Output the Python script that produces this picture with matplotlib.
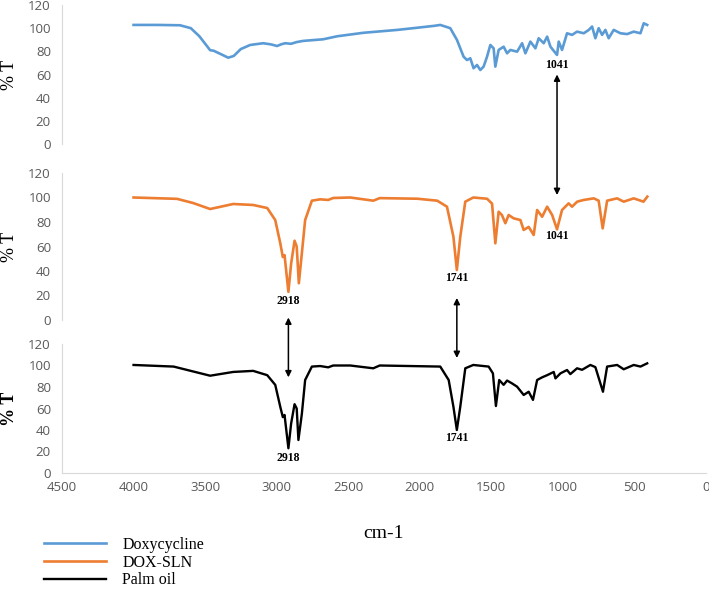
import matplotlib
matplotlib.use("Agg")
import matplotlib.pyplot as plt
from matplotlib.patches import ConnectionPatch

# Doxycycline spectrum (wavenumber cm-1, %T)
dox_wn = [4000, 3836, 3675, 3600, 3540, 3465, 3440, 3380, 3339, 3300, 3250, 3185,
          3094, 3040, 2997, 2970, 2940, 2900, 2860, 2815, 2675, 2577, 2395, 2157,
          2045, 1900, 1857, 1787, 1740, 1694, 1670, 1647, 1624, 1600, 1577, 1554,
          1530, 1507, 1484, 1472, 1449, 1414, 1390, 1367, 1320, 1285, 1262, 1227,
          1192, 1169, 1134, 1110, 1087, 1041, 1029, 1006, 971, 936, 901, 854, 819,
          796, 773, 750, 726, 703, 680, 645, 598, 551, 505, 458, 435, 411]
dox_t = [102.8, 102.8, 102.5, 100, 93, 81, 80.5, 77, 74.5, 76, 82, 85.5,
         87, 86, 84.6, 86, 87, 86.5, 88, 89, 90.4, 93, 96, 98.5,
         100, 102, 102.8, 100, 89.8, 75.4, 72.5, 74, 65.4, 68.2, 63.9, 66.8,
         75.4, 85.5, 82.6, 66.8, 81.2, 84, 78.3, 81.2, 79.7, 87, 78.3, 88.4,
         82.6, 91.3, 87, 92.7, 84, 76.9, 88.4, 81.2, 95.6, 94.2, 97, 95.6, 98.5,
         101.4, 91.3, 100, 94.2, 98.5, 91.3, 98.5, 95.6, 94.9, 97, 95.6, 104.2, 102.8]

# DOX-SLN spectrum
sln_wn = [4000, 3696, 3584, 3465, 3304, 3164, 3066, 3010, 2975, 2957, 2945, 2918,
          2899, 2875, 2860, 2845, 2824, 2801, 2754, 2696, 2640, 2605, 2486, 2325,
          2280, 2017, 1878, 1810, 1765, 1741, 1717, 1682, 1626, 1530, 1495, 1472,
          1449, 1426, 1402, 1379, 1344, 1297, 1274, 1239, 1204, 1180, 1145, 1110,
          1075, 1041, 1006, 960, 936, 900, 854, 784, 750, 722, 691, 621, 575, 505,
          437, 410]
sln_t = [100, 98.9, 95.5, 90.6, 94.7, 93.9, 91.4, 81.6, 62.8, 51.4, 53, 23,
         46, 64.7, 60, 30, 54.5, 81.6, 97.4, 98.5, 98, 99.6, 100, 97.4,
         99.5, 99, 97.4, 92.5, 68, 40.8, 68, 96.6, 100, 99, 95, 62.6,
         88.4, 85.7, 79, 85.7, 83, 81.6, 73.5, 76, 69.4, 89.8, 84.3, 92.5,
         85.7, 74, 89.8, 95.2, 92.5, 96.6, 98, 99.3, 97.4, 74.8, 97.4, 99.3, 96.6, 99.3,
         96.6, 100.7]

# Palm oil spectrum
palm_wn = [4000, 3720, 3465, 3304, 3164, 3066, 3010, 2975, 2957, 2945, 2918, 2899,
           2875, 2860, 2848, 2824, 2801, 2754, 2696, 2640, 2605, 2486, 2325, 2280,
           1857, 1798, 1765, 1741, 1717, 1682, 1626, 1519, 1489, 1468, 1445, 1414,
           1390, 1356, 1320, 1274, 1239, 1209, 1180, 1145, 1110, 1064, 1052, 1017,
           971, 948, 901, 866, 808, 773, 720, 691, 621, 575, 505, 458, 411]
palm_t = [100.5, 99, 90.5, 94, 95, 91, 82, 61.7, 52, 54, 23, 46,
          64, 60, 30.7, 55, 86.5, 99, 99.5, 98.3, 100, 100, 97.4, 100,
          99, 86.5, 61.7, 40, 61.7, 97.4, 100.5, 99, 92.7, 62.3, 86.5, 82,
          86, 83.4, 80.3, 72.6, 75.6, 68, 86.5, 89, 91, 94, 88, 92.7,
          95.8, 92, 97.4, 96, 100.5, 98.5, 75.6, 99, 100.5, 96.5, 100.5, 99, 102]

labels = ["Doxycycline", "DOX-SLN", "Palm oil"]
colors = ["#5B9BD5", "#ED7D31", "#000000"]
x_ticks = [4500, 4000, 3500, 3000, 2500, 2000, 1500, 1000, 500, 0]
y_ticks = [0, 20, 40, 60, 80, 100, 120]

serif = "Liberation Serif"
tick_color = "#595959"
axis_color = "#d9d9d9"

W, H = 709, 589
fig = plt.figure(figsize=(W / 100, H / 100), dpi=100)

def px_axes(top, bottom):
    left, right = 62, 706
    return fig.add_axes([left / W, (H - bottom) / H, (right - left) / W, (bottom - top) / H])

ax_top = px_axes(5, 144)
ax_mid = px_axes(173, 320)
ax_bot = px_axes(344, 473)
axes = [ax_top, ax_mid, ax_bot]

series = [(dox_wn, dox_t), (sln_wn, sln_t), (palm_wn, palm_t)]
lws = [1.9, 1.9, 1.7]
handles = []
for ax, (wn, t), c, lw, lab in zip(axes, series, colors, lws, labels):
    ln, = ax.plot(wn, t, color=c, lw=lw, label=lab, solid_joinstyle="round")
    handles.append(ln)
    ax.set_xlim(4500, 0)
    ax.set_ylim(0, 120)
    ax.set_yticks(y_ticks)
    ax.set_xticks(x_ticks)
    for s in ["top", "right"]:
        ax.spines[s].set_visible(False)
    ax.spines["left"].set_color(axis_color)
    ax.spines["bottom"].set_color(axis_color)
    ax.tick_params(length=0, labelsize=9.5, labelcolor=tick_color, pad=8)
    for lbl in ax.get_yticklabels():
        lbl.set_family("Open Sans")

for ax in [ax_top, ax_mid]:
    ax.spines["bottom"].set_visible(False)
    ax.tick_params(labelbottom=False)

for lbl in ax_bot.get_xticklabels():
    lbl.set_family("Open Sans")
ax_bot.tick_params(axis="x", pad=6)

ax_top.set_ylabel("% T", family=serif, fontsize=13, va="center")
ax_mid.set_ylabel("% T", family=serif, fontsize=13, va="center")
ax_bot.set_ylabel("% T", family=serif, fontsize=13, fontweight="bold", va="center")
for ax in axes:
    ax.yaxis.set_label_coords(-52 / 644, 0.5)
ax_bot.set_xlabel("cm-1", family=serif, fontsize=14, labelpad=22)

# peak labels
note = dict(family=serif, fontsize=8.5, fontweight="bold", ha="center", va="center")
ax_top.text(1041, 68, "1041", **note)
ax_mid.text(1041, 68.5, "1041", **note)
ax_mid.text(1741, 34, "1741", **note)
ax_mid.text(2918, 15.5, "2918", **note)
ax_bot.text(2918, 14, "2918", **note)
ax_bot.text(1741, 32.5, "1741", **note)

# double arrows between panels
arrows = [(1041, ax_top, 60, ax_mid, 102),
          (2918, ax_mid, 2, ax_bot, 89),
          (1741, ax_mid, 18, ax_bot, 107)]
for wn, axa, ya, axb, yb in arrows:
    cp = ConnectionPatch(xyA=(wn, ya), coordsA=axa.transData,
                         xyB=(wn, yb), coordsB=axb.transData,
                         arrowstyle="<|-|>", mutation_scale=9, lw=1.1, color="black")
    fig.add_artist(cp)

fig.legend(handles=handles, labels=labels, loc="upper left",
           bbox_to_anchor=(44 / W, (H - 537) / H), frameon=False,
           prop={"family": serif, "size": 11.5}, handlelength=3.9,
           handletextpad=1.0, labelspacing=0.1, borderpad=0, borderaxespad=0)

fig.savefig("out.png", dpi=100)
